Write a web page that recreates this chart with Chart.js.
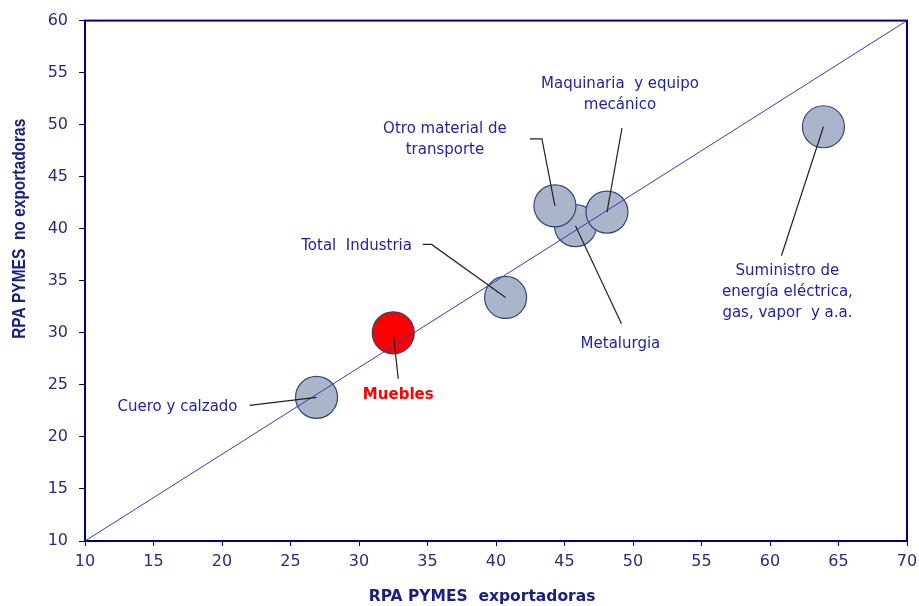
<!DOCTYPE html>
<html>
<head>
<meta charset="utf-8">
<script src="https://cdn.jsdelivr.net/npm/chart.js@4.4.1/dist/chart.umd.min.js"></script>
<style>
  html, body { margin: 0; padding: 0; background: #fff; overflow: hidden; }
  #wrap { width: 919px; height: 606px; position: relative; }
</style>
</head>
<body>
<div id="wrap"><canvas id="chart"></canvas></div>
<script>
const sectors = ['Cuero y calzado', 'Muebles', 'Total Industria', 'Metalurgia',
    'Otro material de transporte', 'Maquinaria y equipo mecánico',
    'Suministro de energía eléctrica, gas, vapor y a.a.'];
const exportadoras = [26.9, 32.5, 40.7, 45.8, 44.3, 48.1, 63.9];
const noExportadoras = [23.8, 30.0, 33.4, 40.3, 42.2, 41.6, 49.8];
const axisMin = 10;
const axisMaxX = 70;
const axisMaxY = 60;
const tickStep = 5;
const xTitle = 'RPA PYMES  exportadoras';
const yTitle = 'RPA PYMES  no exportadoras';

// where each label sits, in pixels from its bubble (text lines + leader path)
const labelLayout = [
    { lines: ['Cuero y calzado'], dx: -139, dy: 10, leader: [[-67, 8]] },
    { lines: ['Muebles'], dx: 5, dy: 62, leader: [[5, 46]], bold: true, color: '#ff0000' },
    { lines: ['Total  Industria'], dx: -149, dy: -51, leader: [[-83, -53], [-74, -53]] },
    { lines: ['Metalurgia'], dx: 45, dy: 118, leader: [[46, 98]] },
    { lines: ['Otro material de', 'transporte'], dx: -110, dy: -66, leader: [[-25, -67], [-13, -67]] },
    { lines: ['Maquinaria  y equipo', 'mecánico'], dx: 13, dy: -117, leader: [[15, -84]] },
    { lines: ['Suministro de', 'energía eléctrica,', 'gas, vapor  y a.a.'], dx: -36, dy: 165, leader: [[-42, 129]] },
];

const navy = '#000080';
const textBlue = '#2323a0';
const titleColor = '#1a2080';
const font = 'DejaVu Sans, Verdana, sans-serif';
const narrowFont = 'Liberation Sans, Arial, sans-serif';

const points = sectors.map((s, i) => ({ x: exportadoras[i], y: noExportadoras[i] }));

const labelsPlugin = {
    id: 'labels',
    afterDatasetsDraw(chart) {
        const ctx = chart.ctx;
        const meta = chart.getDatasetMeta(1);
        const area = chart.chartArea;
        ctx.save();
        // leader lines
        ctx.strokeStyle = '#222222';
        ctx.lineWidth = 1.2;
        labelLayout.forEach((l, i) => {
            const p = meta.data[i];
            ctx.beginPath();
            ctx.moveTo(p.x + l.leader[0][0], p.y + l.leader[0][1]);
            l.leader.slice(1).forEach(o => ctx.lineTo(p.x + o[0], p.y + o[1]));
            ctx.lineTo(p.x, p.y);
            ctx.stroke();
        });
        // label text
        ctx.textAlign = 'center';
        ctx.textBaseline = 'middle';
        labelLayout.forEach((l, i) => {
            const p = meta.data[i];
            ctx.font = (l.bold ? 'bold ' : '') + '15px ' + font;
            ctx.fillStyle = l.color || textBlue;
            const lh = 21;
            const y0 = p.y + l.dy - (l.lines.length - 1) * lh / 2;
            l.lines.forEach((t, k) => ctx.fillText(t, p.x + l.dx, y0 + k * lh));
        });
        // axis titles (sit a bit off-centre in the original)
        ctx.font = 'bold 15.5px ' + font;
        ctx.fillStyle = titleColor;
        ctx.fillText(xTitle, area.left + (area.right - area.left) * 0.483, chart.height - 9);
        ctx.save();
        ctx.font = 'bold 15.5px ' + narrowFont;
        ctx.translate(20, area.top + (area.bottom - area.top) * 0.4);
        ctx.rotate(-Math.PI / 2);
        ctx.scale(1, 1.2);
        ctx.fillText(yTitle, 0, 0);
        ctx.restore();
        // plot frame
        ctx.strokeStyle = navy;
        ctx.lineWidth = 2;
        ctx.strokeRect(area.left, area.top, area.right - area.left, area.bottom - area.top);
        ctx.restore();
    }
};

new Chart(document.getElementById('chart'), {
    type: 'scatter',
    data: {
        datasets: [{
            type: 'line',
            data: [{ x: axisMin, y: axisMin }, { x: axisMaxX, y: axisMaxY }],
            borderColor: '#3a3ab8',
            borderWidth: 1,
            pointRadius: 0,
            fill: false
        }, {
            data: points,
            pointRadius: 21,
            pointHoverRadius: 21,
            backgroundColor: points.map((p, i) => sectors[i] === 'Muebles' ? '#ff0000' : '#aab5c9'),
            borderColor: points.map((p, i) => sectors[i] === 'Muebles' ? '#3a3a6a' : '#2f4a78'),
            borderWidth: 1.2
        }]
    },
    options: {
        responsive: true,
        maintainAspectRatio: false,
        animation: false,
        layout: { autoPadding: false, padding: { top: 18, right: 12, left: 0, bottom: 0 } },
        plugins: {
            legend: { display: false },
            tooltip: { enabled: false }
        },
        scales: {
            x: {
                type: 'linear',
                min: axisMin,
                max: axisMaxX,
                ticks: { stepSize: tickStep, color: '#2a2a80', font: { family: font, size: 16 }, padding: 6 },
                grid: { drawOnChartArea: false, drawTicks: true, tickLength: 5, color: navy },
                border: { color: navy, width: 2 },
                afterFit(scale) {
                    scale.height = 65;
                    scale.paddingRight = 0;
                }
            },
            y: {
                type: 'linear',
                min: axisMin,
                max: axisMaxY,
                ticks: { stepSize: tickStep, color: '#2a2a80', font: { family: font, size: 16 }, padding: 11 },
                grid: { drawOnChartArea: false, drawTicks: true, tickLength: 6, color: navy },
                border: { color: navy, width: 2 },
                afterFit(scale) {
                    scale.width = 85;
                }
            }
        }
    },
    plugins: [labelsPlugin]
});
</script>
</body>
</html>
